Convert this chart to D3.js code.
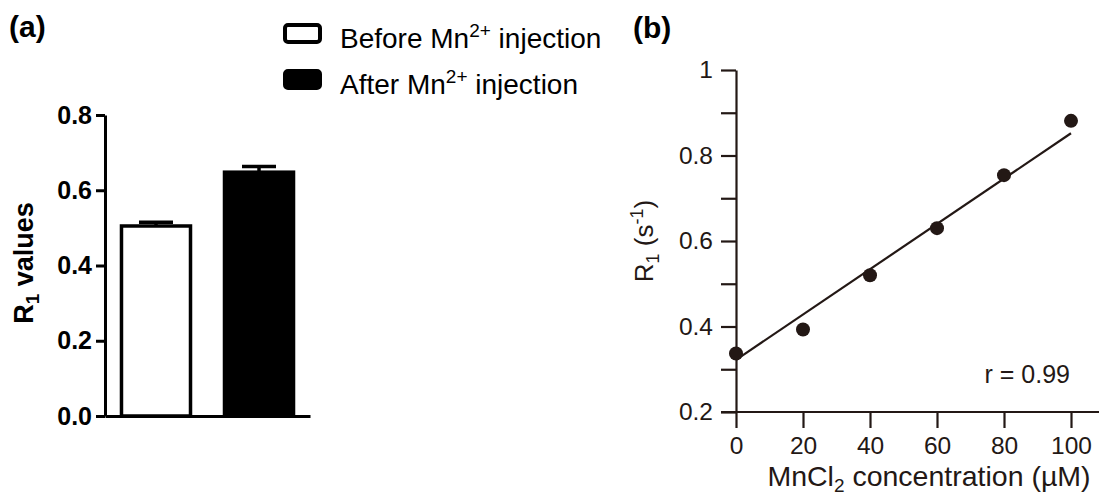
<!DOCTYPE html>
<html><head><meta charset="utf-8">
<script src="https://cdn.jsdelivr.net/npm/d3@7"></script>
<style>body{margin:0;background:#fff} svg{display:block} text{font-family:"Liberation Sans",Arial,Helvetica,sans-serif}</style>
</head><body><svg id="c" width="1101" height="496"></svg>
<script>
// ---- Panel (a) data ----
const barCategories = ["Before", "After"];
const barValues = [0.505, 0.648];
const barErrors = [0.010, 0.015];
const barFills = ["#ffffff", "#000000"];
const legendMain = ["Before Mn", "After Mn"];
const legendSup = ["2+", "2+"];
const legendTail = [" injection", " injection"];
const yTicksA = [0, 0.2, 0.4, 0.6, 0.8];
const yLabelsA = ["0.0", "0.2", "0.4", "0.6", "0.8"];

// ---- Panel (b) data ----
const conc = [0, 20, 40, 60, 80, 100];
const r1 = [0.337, 0.393, 0.520, 0.630, 0.754, 0.881];
const fitX = [0, 100];
const fitY = [0.322, 0.852];
const yTicksB = [0.2, 0.3, 0.4, 0.5, 0.6, 0.7, 0.8, 0.9, 1.0];
const yLabelsB = ["0.2", "", "0.4", "", "0.6", "", "0.8", "", "1"];
const xTicksB = [0, 20, 40, 60, 80, 100];
const xLabelsB = ["0", "20", "40", "60", "80", "100"];

const FONT = '"Liberation Sans", Arial, Helvetica, sans-serif';
const svg = d3.select("#c");

// ================= Panel (a) =================
const gA = svg.append("g");
const yA = d3.scaleLinear().domain([0, 0.8]).range([416, 115]);
const xA = d3.scaleBand().domain(barCategories).range([105, 310]).paddingInner(0.33).paddingOuter(0.16);

gA.append("text").attr("x", 9).attr("y", 37).attr("font-size", 30).attr("font-weight", "bold").text("(a)");

// bars
gA.selectAll("rect.bar").data(barValues).join("rect").attr("class", "bar")
  .attr("x", (d, i) => xA(barCategories[i])).attr("width", xA.bandwidth())
  .attr("y", d => yA(d)).attr("height", d => yA(0) - yA(d))
  .attr("fill", (d, i) => barFills[i]).attr("stroke", "#000").attr("stroke-width", 3.5);

// error bars
const capW = 34;
barValues.forEach((v, i) => {
  const cx = xA(barCategories[i]) + xA.bandwidth() / 2;
  gA.append("line").attr("x1", cx).attr("x2", cx).attr("y1", yA(v)).attr("y2", yA(v + barErrors[i]))
    .attr("stroke", "#000").attr("stroke-width", 3.5);
  gA.append("line").attr("x1", cx - capW / 2).attr("x2", cx + capW / 2)
    .attr("y1", yA(v + barErrors[i])).attr("y2", yA(v + barErrors[i]))
    .attr("stroke", "#000").attr("stroke-width", 3.5);
});

// axes
const axA = gA.append("g").attr("transform", `translate(0,${yA(0)})`)
  .call(d3.axisBottom(xA).tickSize(0).tickSizeOuter(0).tickFormat(""));
axA.select(".domain").attr("stroke", "#000").attr("stroke-width", 3);
const ayA = gA.append("g").attr("transform", `translate(${xA.range()[0]},0)`)
  .call(d3.axisLeft(yA).tickValues(yTicksA).tickFormat((d, i) => yLabelsA[i]).tickSize(9).tickSizeOuter(0).tickPadding(4));
ayA.attr("font-family", FONT);
ayA.selectAll("path,line").attr("stroke", "#000").attr("stroke-width", 3);
ayA.selectAll("text").attr("font-size", 25).attr("font-weight", "bold").attr("fill", "#000");

// y title (a)
const tA = gA.append("text").attr("transform", `translate(33,${263}) rotate(-90)`)
  .attr("text-anchor", "middle").attr("font-size", 27).attr("font-weight", "bold");
tA.append("tspan").text("R");
tA.append("tspan").attr("font-size", 19).attr("dy", 6).text("1");
tA.append("tspan").attr("dy", -6).text(" values");

// legend
const legY = [25, 71];
const legTextY = [48, 94];
barFills.forEach((f, i) => {
  gA.append("rect").attr("x", 285).attr("y", legY[i]).attr("width", 35).attr("height", 17)
    .attr("rx", 3).attr("fill", f).attr("stroke", "#000").attr("stroke-width", 4);
  const t = gA.append("text").attr("x", 340).attr("y", legTextY[i]).attr("font-size", 28);
  t.append("tspan").text(legendMain[i]);
  t.append("tspan").attr("font-size", 19).attr("dy", -11).text(legendSup[i]);
  t.append("tspan").attr("dy", 11).text(legendTail[i]);
});

// ================= Panel (b) =================
const ink = "#231815";
const gB = svg.append("g");
const xB = d3.scaleLinear().domain([0, 100]).range([736, 1071]);
const yB = d3.scaleLinear().domain([0.2, 1]).range([412, 70]);

gB.append("text").attr("x", 633).attr("y", 38).attr("font-size", 30).attr("font-weight", "bold").text("(b)");

const ayB = gB.append("g").attr("transform", `translate(${xB(0)},0)`)
  .call(d3.axisLeft(yB).tickValues(yTicksB).tickFormat((d, i) => yLabelsB[i]).tickSize(15).tickSizeOuter(0).tickPadding(8));
ayB.attr("font-family", FONT);
ayB.selectAll("path,line").attr("stroke", ink).attr("stroke-width", 2.2);
ayB.selectAll("text").attr("font-size", 24.5).attr("fill", ink);

const axB = gB.append("g").attr("transform", `translate(0,${yB(0.2)})`)
  .call(d3.axisBottom(xB).tickValues(xTicksB).tickFormat((d, i) => xLabelsB[i]).tickSize(16).tickSizeOuter(0).tickPadding(9));
axB.attr("font-family", FONT);
axB.select(".domain").remove();
axB.selectAll("line").attr("stroke", ink).attr("stroke-width", 2.2);
axB.selectAll("text").attr("font-size", 24.5).attr("fill", ink);
gB.append("line").attr("x1", xB(0) - 15).attr("x2", xB(100) + 28)
  .attr("y1", yB(0.2)).attr("y2", yB(0.2)).attr("stroke", ink).attr("stroke-width", 2.2);

// fit line
gB.append("path").datum(fitX.map((x, i) => [x, fitY[i]]))
  .attr("d", d3.line().x(d => xB(d[0])).y(d => yB(d[1])))
  .attr("fill", "none").attr("stroke", ink).attr("stroke-width", 2.2);

// points
gB.selectAll("circle").data(conc).join("circle")
  .attr("cx", d => xB(d)).attr("cy", (d, i) => yB(r1[i])).attr("r", 7).attr("fill", ink);

// r label
gB.append("text").attr("x", xB(100) - 1).attr("y", 383).attr("text-anchor", "end")
  .attr("font-size", 25).attr("fill", ink).text("r = 0.99");

// x title
const xt = gB.append("text").attr("x", 929).attr("y", 486).attr("text-anchor", "middle")
  .attr("font-size", 28.5).attr("fill", ink);
xt.append("tspan").text("MnCl");
xt.append("tspan").attr("font-size", 19).attr("dy", 6).text("2");
xt.append("tspan").attr("dy", -6).text(" concentration (\u00B5M)");

// y title
const yt = gB.append("text").attr("transform", `translate(653,241) rotate(-90)`)
  .attr("text-anchor", "middle").attr("font-size", 26).attr("fill", ink);
yt.append("tspan").text("R");
yt.append("tspan").attr("font-size", 18).attr("dy", 6).text("1");
yt.append("tspan").attr("dy", -6).text(" (s");
yt.append("tspan").attr("font-size", 18).attr("dy", -10).text("-1");
yt.append("tspan").attr("dy", 10).text(")");
</script></body></html>
